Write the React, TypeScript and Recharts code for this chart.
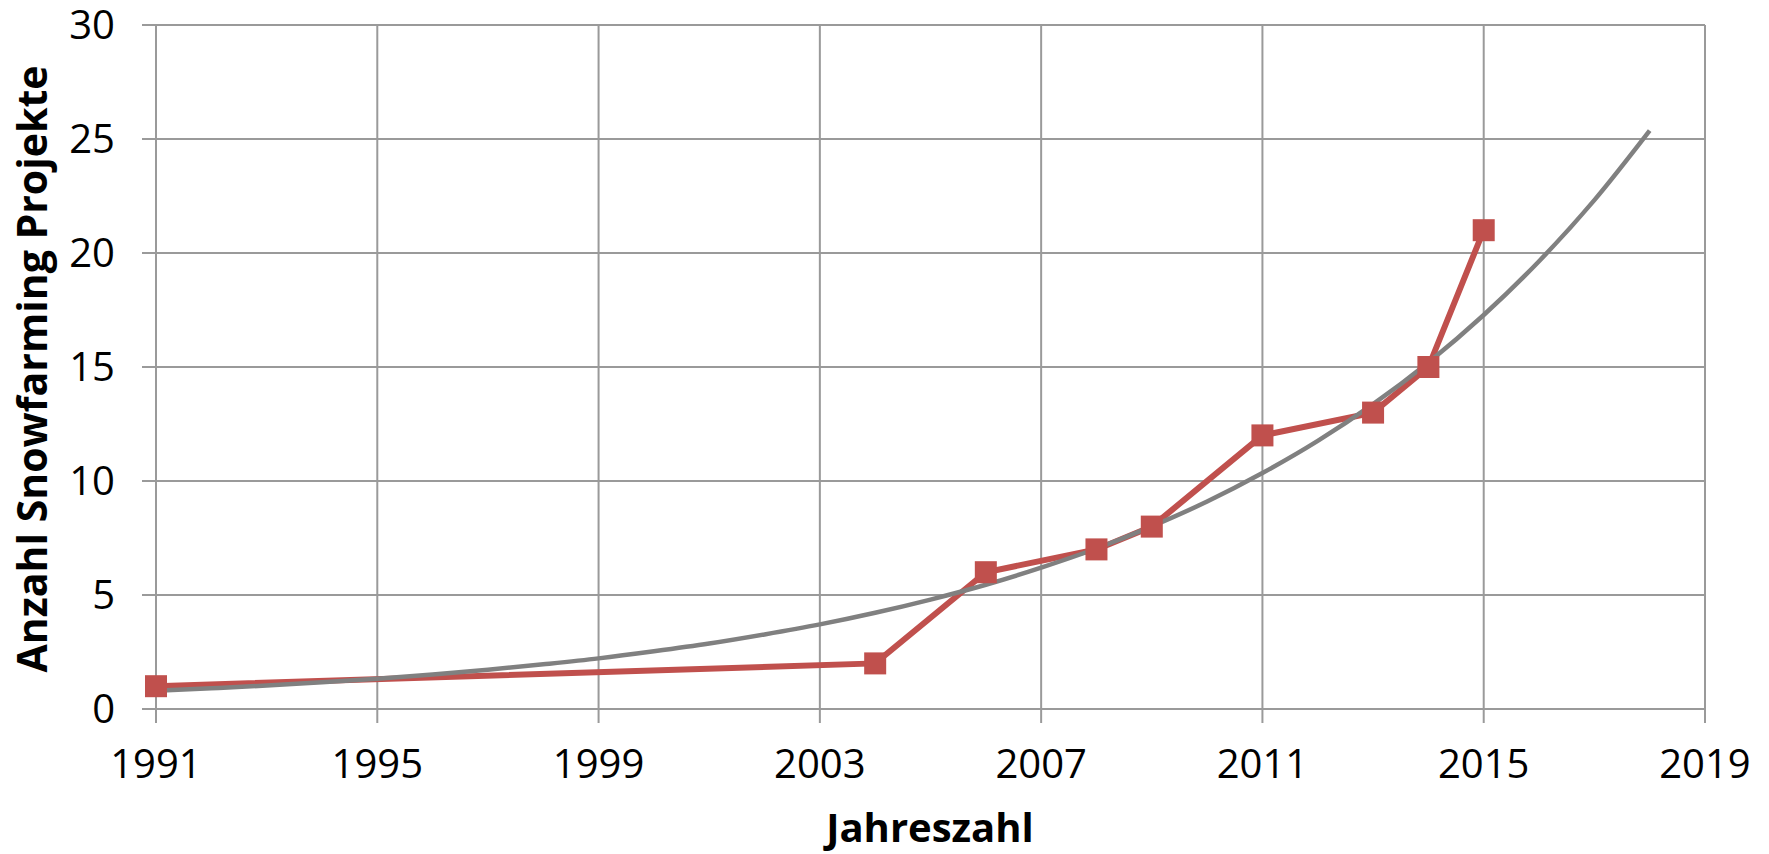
import React from "react";
import {
  LineChart,
  Line,
  XAxis,
  YAxis,
  CartesianGrid,
} from "recharts";

// Snowfarming projects per year (red series)
const projectYears = [1991, 2004, 2006, 2008, 2009, 2011, 2013, 2014, 2015];
const projectCounts = [1, 2, 6, 7, 8, 12, 13, 15, 21];

// Exponential trend line
const trendYears = [
  1991, 1992, 1993, 1994, 1995, 1996, 1997, 1998, 1999, 2000, 2001, 2002, 2003, 2004,
  2005, 2006, 2007, 2008, 2009, 2010, 2011, 2012, 2013, 2014, 2015, 2016, 2017, 2018,
];
const trendValues = [
  0.8, 0.91, 1.03, 1.17, 1.33, 1.51, 1.72, 1.96, 2.22, 2.53, 2.87, 3.27, 3.71, 4.22,
  4.8, 5.45, 6.2, 7.04, 8.01, 9.1, 10.35, 11.76, 13.37, 15.2, 17.28, 19.64, 22.32, 25.37,
];

const xTicks = [1991, 1995, 1999, 2003, 2007, 2011, 2015, 2019];
const yTicks = [0, 5, 10, 15, 20, 25, 30];

const projectData = projectYears.map((year, i) => ({ year, count: projectCounts[i] }));
const trendData = trendYears.map((year, i) => ({ year, trend: trendValues[i] }));

const FONT = "'Open Sans', sans-serif";
const RED = "#C0504D";
const GREY = "#808080";
const GRID = "#9A9A9A";

// eslint-disable-next-line @typescript-eslint/no-explicit-any
const SquareDot = (props: any) => {
  const { cx, cy } = props;
  if (cx == null || cy == null) return null;
  const s = 22;
  return <rect x={cx - s / 2} y={cy - s / 2} width={s} height={s} fill={RED} />;
};

export default function App() {
  return (
    <div style={{ position: "absolute", left: 0, top: 0, width: 1769, height: 854, background: "#fff" }}>
      <LineChart
        width={1769}
        height={854}
        margin={{ top: 25, right: 64, bottom: 0, left: 0 }}
        style={{ fontFamily: FONT, overflow: "visible" }}
      >
        <CartesianGrid stroke={GRID} strokeWidth={2} horizontalValues={yTicks} verticalValues={xTicks} />
        <XAxis
          type="number"
          dataKey="year"
          domain={[1991, 2019]}
          ticks={xTicks}
          interval={0}
          allowDuplicatedCategory={false}
          axisLine={{ stroke: GRID, strokeWidth: 2 }}
          tickLine={{ stroke: GRID, strokeWidth: 2 }}
          tickSize={14}
          tickMargin={27}
          tick={{ fill: "#000", fontSize: 40, fontFamily: FONT }}
          height={145}
          label={() => (
            <text
              x={930}
              y={842}
              textAnchor="middle"
              fontFamily={FONT}
              fontWeight="bold"
              fontSize={40}
              fill="#000"
            >
              Jahreszahl
            </text>
          )}
        />
        <YAxis
          type="number"
          domain={[0, 30]}
          ticks={yTicks}
          interval={0}
          width={156}
          axisLine={{ stroke: GRID, strokeWidth: 2 }}
          tickLine={{ stroke: GRID, strokeWidth: 2 }}
          tickSize={14}
          tickMargin={27}
          tick={{ fill: "#000", fontSize: 40, fontFamily: FONT }}
          label={() => (
            <text
              x={31}
              y={369}
              transform="rotate(-90, 31, 369)"
              textAnchor="middle"
              dominantBaseline="central"
              fontFamily={FONT}
              fontWeight="bold"
              fontSize={41}
              fill="#000"
            >
              Anzahl Snowfarming Projekte
            </text>
          )}
        />
        <Line
          data={projectData}
          dataKey="count"
          type="linear"
          stroke={RED}
          strokeWidth={6}
          dot={<SquareDot />}
          activeDot={false}
          isAnimationActive={false}
        />
        <Line
          data={trendData}
          dataKey="trend"
          type="monotone"
          stroke={GREY}
          strokeWidth={4.5}
          dot={false}
          activeDot={false}
          isAnimationActive={false}
        />
      </LineChart>
    </div>
  );
}
